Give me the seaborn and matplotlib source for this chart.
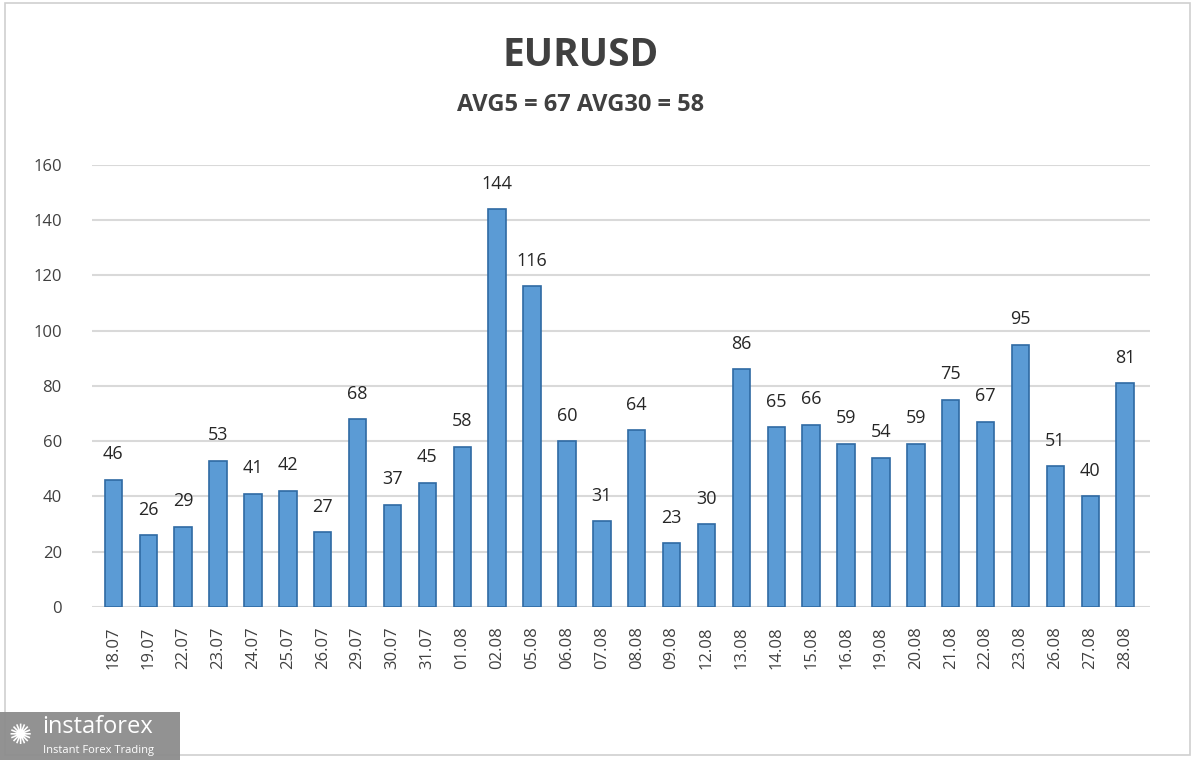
import matplotlib
matplotlib.use("Agg")
import matplotlib.pyplot as plt
import seaborn as sns
import pandas as pd
from matplotlib.patches import Rectangle

# Daily volatility data (points)
dates = ['18.07', '19.07', '22.07', '23.07', '24.07', '25.07', '26.07', '29.07', '30.07', '31.07',
         '01.08', '02.08', '05.08', '06.08', '07.08', '08.08', '09.08', '12.08', '13.08', '14.08',
         '15.08', '16.08', '19.08', '20.08', '21.08', '22.08', '23.08', '26.08', '27.08', '28.08']
values = [46, 26, 29, 53, 41, 42, 27, 68, 37, 45,
          58, 144, 116, 60, 31, 64, 23, 30, 86, 65,
          66, 59, 54, 59, 75, 67, 95, 51, 40, 81]
yticks = [0, 20, 40, 60, 80, 100, 120, 140, 160]
title = 'EURUSD'
subtitle = 'AVG5 = 67 AVG30 = 58'

df = pd.DataFrame({'date': dates, 'value': values})

sns.set_style('white')
plt.rcParams['font.family'] = ['Open Sans', 'DejaVu Sans']

fig = plt.figure(figsize=(12, 7.6), dpi=100)
ax = fig.add_axes([0.077, 0.2013, 0.881, 0.5817])

sns.barplot(x='date', y='value', data=df, color='#5b9bd5', width=0.5,
            edgecolor='#2f6aa3', linewidth=1.2, saturation=1, ax=ax)

for i, v in enumerate(values):
    ax.text(i, v + 6, str(v), ha='center', va='bottom', fontsize=13, color='#262626')

ax.set_ylim(0, 160)
ax.set_xlim(-0.6, 29.7)
ax.set_yticks(yticks)
ax.set_yticklabels([str(t) for t in yticks], fontsize=12, color='#404040')
ax.tick_params(axis='y', length=0, pad=22)
ax.tick_params(axis='x', length=0, pad=14, labelrotation=90, labelsize=12, labelcolor='#404040')
ax.yaxis.grid(True, color='#d9d9d9', linewidth=1.5)
ax.set_axisbelow(True)
ax.set_xlabel('')
ax.set_ylabel('')
for s in ax.spines.values():
    s.set_visible(False)

fig.text(0.484, 0.927, title, ha='center', va='center', fontsize=28, fontweight='bold', color='#404040')
fig.text(0.484, 0.862, subtitle, ha='center', va='center', fontsize=17, fontweight='bold', color='#404040')

# outer frame
fig.patches.append(Rectangle((0.004, 0.006), 0.988, 0.99, transform=fig.transFigure,
                             fill=False, edgecolor='#cfcfcf', linewidth=1.2))

# watermark logo box
fig.patches.append(Rectangle((0.0, 0.0), 0.15, 0.063, transform=fig.transFigure,
                             facecolor='#8c8c8c', edgecolor='none', alpha=0.95))
fig.text(0.035, 0.043, 'instaforex', ha='left', va='center', fontsize=17, color='white')
fig.text(0.036, 0.013, 'Instant Forex Trading', ha='left', va='center', fontsize=8, color='white')
fig.text(0.017, 0.031, '✺', ha='center', va='center', fontsize=20, color='white', family=['DejaVu Sans'])

fig.savefig('out.png', dpi=100)
